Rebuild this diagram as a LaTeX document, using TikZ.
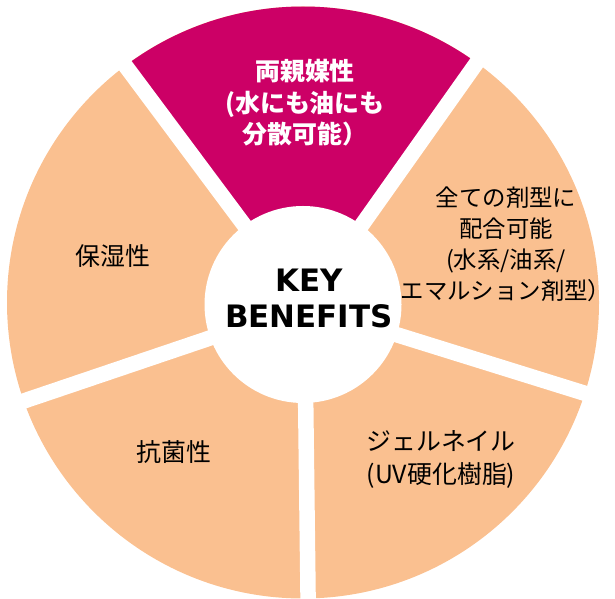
\documentclass[tikz,border=0pt]{standalone}
\usepackage{fontspec}
\newfontfamily\jp{Noto Sans CJK JP}
\newfontfamily\kb{DejaVu Sans}
\definecolor{peach}{HTML}{FAC090}
\definecolor{mag}{HTML}{CC0066}
\tikzset{
  lbl/.style={font=\jp\fontsize{25}{31.5}\selectfont, align=center, text=black, inner sep=0pt},
  mlbl/.style={font=\jp\bfseries\fontsize{25}{31.5}\selectfont, align=center, text=white, inner sep=0pt},
  keylbl/.style={font=\kb\bfseries\fontsize{31}{37}\selectfont, align=center, text=black, inner sep=0pt},
  gap/.style={draw=white, line width=15.5bp}
}
\begin{document}
\begin{tikzpicture}[x=1bp,y=1bp]
\useasboundingbox (0,0) rectangle (615,599);
\coordinate (O) at (303,296.5);
\coordinate (S) at (304.5,293);
\coordinate (C) at (303,294.5);
\def\R{296}
\fill[peach] (O) circle (\R);
\fill[mag] (O) -- ++(54.7:\R) arc[start angle=54.7, end angle=126.7, radius=\R] -- cycle;
\foreach \a in {54.7,126.7,198.7,270.7,342.7}
  \draw[gap] (S) -- ++(\a:330);
\fill[white] (C) circle (98.5);
\node[keylbl] (kb) at (309,300.5) {KEY\\BENEFITS};
\node[mlbl] (m) at (305,496) {両親媒性\\(水にも油にも\\分散可能）};
\node[lbl, font=\jp\fontsize{23.5}{31.2}\selectfont] (ur) at (506,354.5) {全ての剤型に\\配合可能\\(水系/油系/\\エマルション剤型）};
\node[lbl] (ul) at (113,343) {保湿性};
\node[lbl] (ll) at (174,147) {抗菌性};
\node[lbl, font=\jp\fontsize{25}{34}\selectfont] (lr) at (441,139.5) {ジェルネイル\\(UV硬化樹脂)};
\end{tikzpicture}
\end{document}
